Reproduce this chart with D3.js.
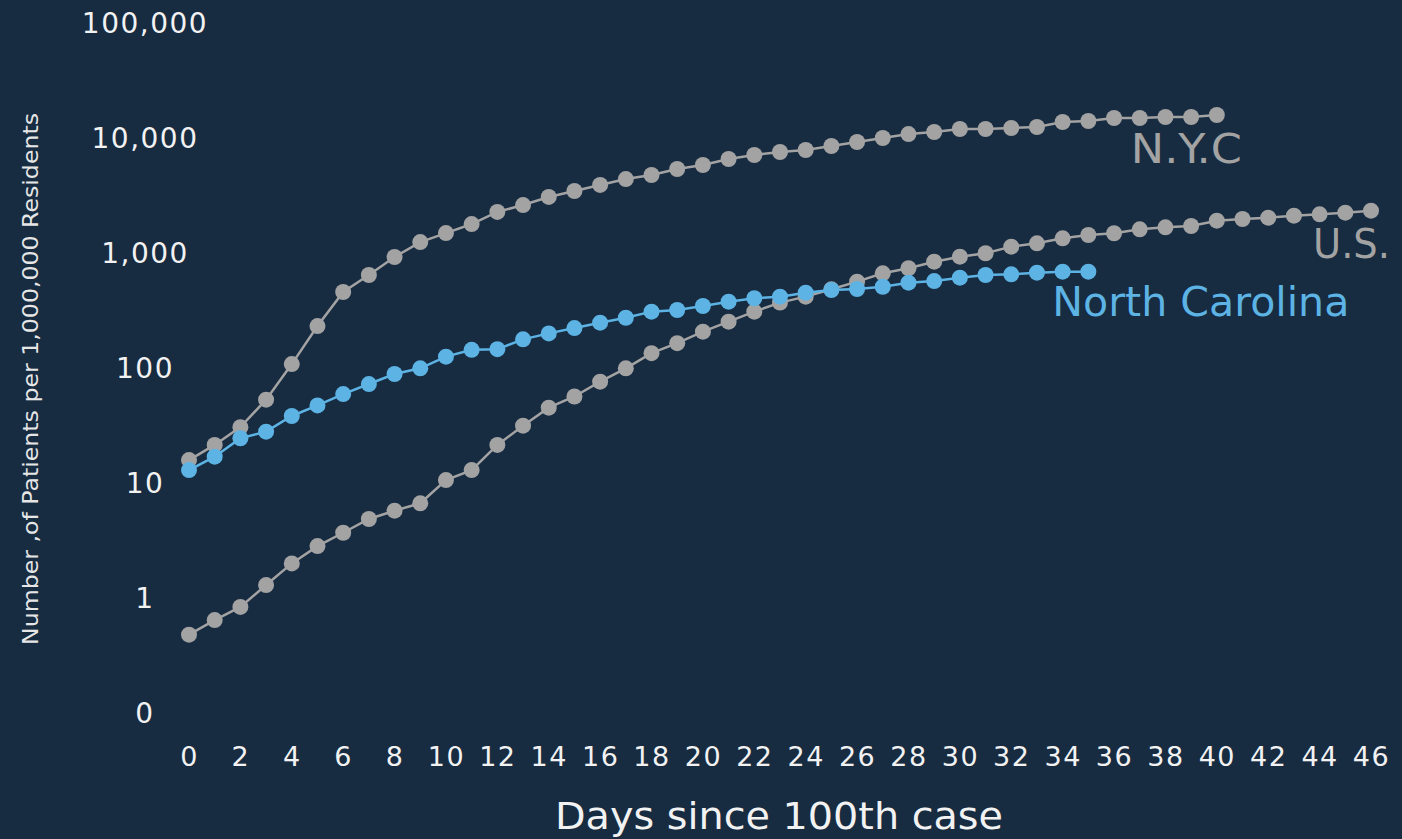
<!DOCTYPE html>
<html>
<head>
<meta charset="utf-8">
<script src="https://cdn.jsdelivr.net/npm/d3@7"></script>
<style>
  html, body { margin: 0; padding: 0; background: #172b41; }
  svg { display: block; }
  text { font-family: "DejaVu Sans", sans-serif; }
</style>
</head>
<body>
<svg id="chart" width="1402" height="839"></svg>
<script>
// days since 100th case
const days = d3.range(0, 47);

// patients per 1,000,000 residents
const nycValues = [15.5, 21, 30, 52, 106, 227, 449, 631, 905, 1220, 1460, 1750, 2230, 2560, 3010,
  3390, 3830, 4310, 4670, 5270, 5710, 6440, 6970, 7410, 7710, 8350, 9050, 9800, 10600, 11050,
  11740, 11740, 11970, 12220, 13500, 13770, 14630, 14630, 14930, 14930, 15530];
const usValues = [0.47, 0.63, 0.82, 1.27, 1.96, 2.77, 3.62, 4.77, 5.63, 6.53, 10.4, 12.7, 21, 30.9,
  44.3, 55.4, 74.5, 97.4, 132, 161, 203, 248, 303, 363, 409, 474, 552, 653, 722, 824, 910, 975,
  1113, 1190, 1316, 1406, 1455, 1575, 1640, 1683, 1872, 1936, 1987, 2069, 2128, 2197, 2286];
const ncValues = [12.7, 16.6, 24, 27.4, 37.5, 46.3, 58.2, 71.1, 86.9, 97.4, 123, 141, 143, 174,
  196, 218, 243, 268, 303, 313, 339, 370, 396, 409, 443, 467, 477, 499, 541, 559, 598, 631, 640,
  661, 675, 675];

const seriesNames = ["N.Y.C", "U.S.", "North Carolina"];
const yTicks = [0.1, 1, 10, 100, 1000, 10000, 100000];
const yTickLabels = ["0", "1", "10", "100", "1,000", "10,000", "100,000"];
const xTicks = d3.range(0, 47, 2);

const svg = d3.select("#chart");
const grey = "#a3a3a3";
const blue = "#5cb3e4";

const x = d3.scaleLinear().domain([0, 46]).range([189, 1371]);
const y = d3.scaleLog().domain([0.1, 100000]).range([712, 22]);

// y axis (labels only)
const yAxis = d3.axisLeft(y)
  .tickValues(yTicks)
  .tickSize(0)
  .tickPadding(0)
  .tickFormat((d, i) => yTickLabels[i]);
const gy = svg.append("g").attr("transform", "translate(145,0)").call(yAxis);
gy.select(".domain").remove();
gy.selectAll("text")
  .attr("fill", "#f2f2f2")
  .attr("font-size", 28)
  .attr("letter-spacing", "1.5px")
  .attr("text-anchor", "middle")
  .attr("dy", "0.36em")
  .style("font-family", "DejaVu Sans");

// x axis (labels only)
const xAxis = d3.axisBottom(x).tickValues(xTicks).tickSize(0).tickPadding(0);
const gx = svg.append("g").attr("transform", "translate(0,756)").call(xAxis);
gx.select(".domain").remove();
gx.selectAll("text")
  .attr("fill", "#f2f2f2")
  .attr("font-size", 27)
  .attr("letter-spacing", "1.5px")
  .attr("y", 0)
  .attr("dy", "0.36em")
  .style("font-family", "DejaVu Sans");

// axis titles
svg.append("text")
  .attr("x", 779).attr("y", 829)
  .attr("text-anchor", "middle")
  .attr("fill", "#f2f2f2")
  .attr("font-size", 38)
  .attr("textLength", 448)
  .attr("lengthAdjust", "spacingAndGlyphs")
  .text("Days since 100th case");

svg.append("text")
  .attr("transform", "translate(38,379) rotate(-90)")
  .attr("text-anchor", "middle")
  .attr("fill", "#e6e6e6")
  .attr("font-size", 22)
  .attr("textLength", 532)
  .attr("lengthAdjust", "spacingAndGlyphs")
  .text("Number ,of Patients per 1,000,000 Residents");

// series
const series = [
  { name: seriesNames[0], values: nycValues, color: grey },
  { name: seriesNames[1], values: usValues, color: grey },
  { name: seriesNames[2], values: ncValues, color: blue }
];

const line = d3.line().x((d, i) => x(days[i])).y(d => y(d));

series.forEach(s => {
  const g = svg.append("g");
  g.append("path")
    .attr("d", line(s.values))
    .attr("fill", "none")
    .attr("stroke", s.color)
    .attr("stroke-width", 2.5);
  g.selectAll("circle")
    .data(s.values)
    .join("circle")
    .attr("cx", (d, i) => x(days[i]))
    .attr("cy", d => y(d))
    .attr("r", 8)
    .attr("fill", s.color);
});

// series labels, placed relative to each series' last point
const labelOffsets = [
  { dx: 25, dy: 48, anchor: "end", width: 111 },
  { dx: 19, dy: 47, anchor: "end", width: 77 },
  { dx: -36, dy: 44, anchor: "start", width: 297 }
];
series.forEach((s, k) => {
  const last = s.values.length - 1;
  const o = labelOffsets[k];
  svg.append("text")
    .attr("x", x(days[last]) + o.dx)
    .attr("y", y(s.values[last]) + o.dy)
    .attr("text-anchor", o.anchor)
    .attr("fill", s.color)
    .attr("font-size", 40)
    .attr("textLength", o.width)
    .attr("lengthAdjust", "spacingAndGlyphs")
    .text(s.name);
});
</script>
</body>
</html>
